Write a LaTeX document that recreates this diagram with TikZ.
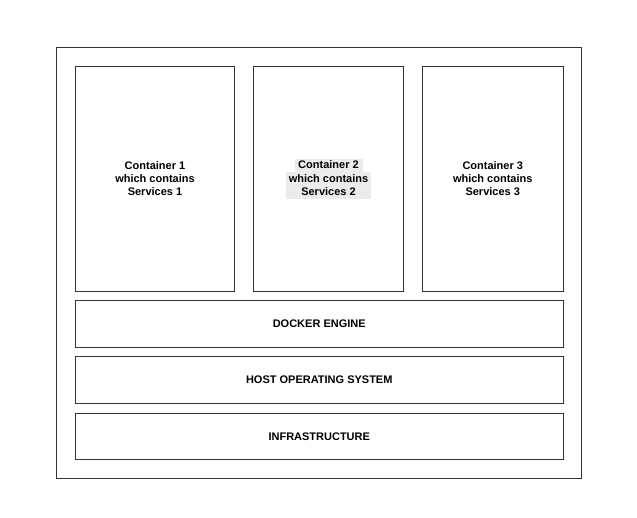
\documentclass[tikz,border=0pt]{standalone}
\usepackage{fontspec}
\setmainfont{Liberation Sans}
\definecolor{linegray}{HTML}{333333}
\definecolor{hlgray}{HTML}{EBEBEB}
\newcommand{\hlline}[2]{\colorbox{hlgray}{\makebox[#1][c]{\rule[-3.3pt]{0pt}{13.2pt}#2}}}
\tikzset{
  layer/.style={draw=linegray, line width=1pt, anchor=north west, inner sep=0pt,
    align=center, font=\fontsize{11}{13.2}\selectfont\bfseries},
}
\begin{document}
\begin{tikzpicture}[x=1pt, y=-1pt]
            \useasboundingbox (0,0) rectangle (637,517);
            \node[layer, minimum width=525pt, minimum height=431pt] (host) at (56,47) {};
            
            \node[layer, minimum width=159pt, minimum height=224.5pt] (C1) at (75,66) {Container 1\\which contains\\Services 1};
            \node[layer, minimum width=150pt, minimum height=224.5pt] (C2) at (253,66) {};
            \node[layer, minimum width=140.5pt, minimum height=224.5pt] (C3) at (422,66) {Container 3\\which contains\\Services 3};
            
            {\setlength{\fboxsep}{0pt}
            \node[align=center, inner sep=0pt, font=\fontsize{11}{13.2}\selectfont\bfseries] (C2text) at (C2.center)
              {\hlline{68pt}{Container 2}\\\hlline{85pt}{which contains}\\\hlline{85pt}{Services 2}};}
            
            \node[layer, minimum width=487.5pt, minimum height=47pt] (DE) at (75,300) {DOCKER ENGINE};
            \node[layer, minimum width=487.5pt, minimum height=47pt] (HO) at (75,356) {HOST OPERATING SYSTEM};
            \node[layer, minimum width=487.5pt, minimum height=46.5pt] (IN) at (75,412.5) {INFRASTRUCTURE};
\end{tikzpicture}
\end{document}
